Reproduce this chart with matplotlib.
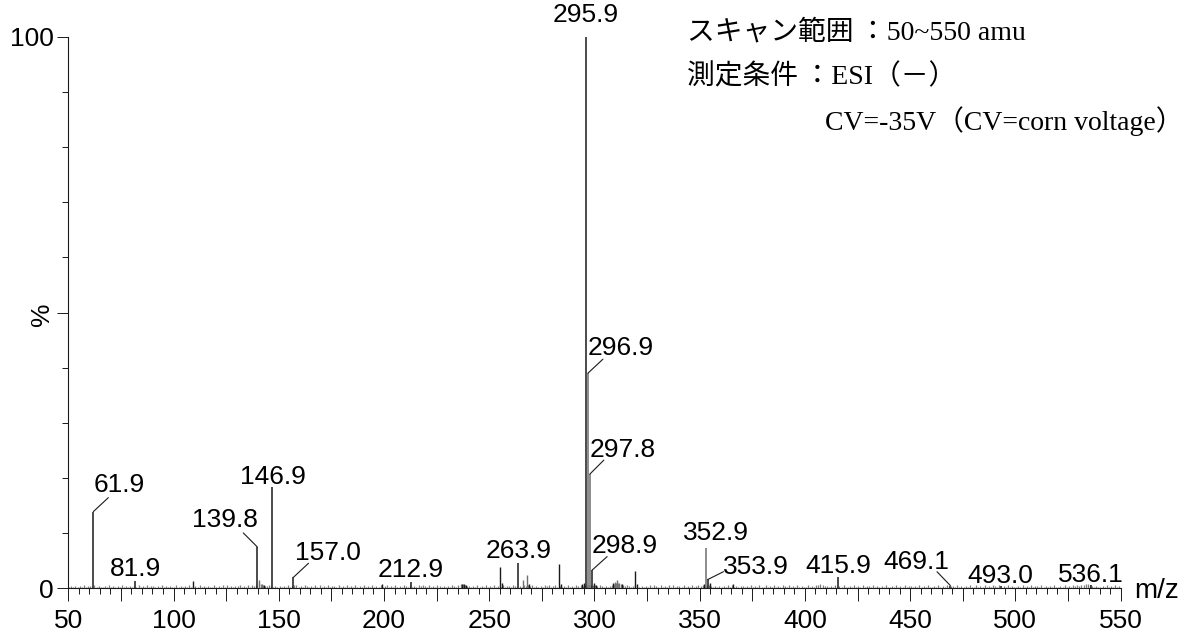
import matplotlib
matplotlib.use('Agg')
import matplotlib.pyplot as plt
import numpy as np

'''
ESI(-) mass spectrum, scan 50-550 amu
'''
# labelled peaks: m/z and relative intensity (%)
peak_mz = [61.9, 81.9, 139.8, 146.9, 157.0, 212.9, 263.9, 295.9, 296.9,
           297.8, 298.9, 352.9, 353.9, 415.9, 469.1, 493.0, 536.1]
peak_int = [13.9, 1.3, 7.5, 18.3, 2.0, 1.1, 4.6, 100.0, 39.0,
            20.7, 3.3, 7.3, 1.6, 2.0, 0.5, 0.4, 0.6]

# other visible peaks without labels
minor_mz = [109.1, 140.8, 141.8, 143.0, 198.9, 237.0, 238.0, 239.0, 255.3, 256.2,
            266.0, 267.9, 269.0, 283.2, 284.0, 293.9, 294.9, 299.9, 300.9,
            308.9, 309.9, 310.9, 311.9, 313.0, 319.2, 320.1, 351.9, 354.9, 366.0]
minor_int = [1.3, 1.5, 0.8, 0.6, 0.8, 0.8, 0.7, 0.6, 3.8, 0.9,
             1.5, 2.4, 0.8, 4.4, 0.8, 0.7, 1.0, 0.9, 0.6,
             0.9, 1.2, 1.5, 1.0, 0.8, 3.1, 0.8, 0.8, 0.9, 0.7]

# baseline noise, one value per unit m/z from 50 to 549, in 0.15 % steps
noise_steps = (
    "2323132423" "3242312324" "2313242313" "2324232413" "3231423132"
    "2423132423" "3142323124" "2324242323" "3423242434" "6543343232"
    "3232423442" "3243232424" "2324233242" "3242324232" "4232423242"
    "3423242324" "3242324343" "2423243232" "3243245543" "3232423242"
    "3242324233" "2432324343" "4232324342" "3423232423" "2434344444"
    "4343232345" "6754343234" "3232324243" "2423242423" "3242324234"
    "3434432323" "2324242323" "3232423242" "2423242324" "3242324232"
    "2423244543" "3232423242" "2324232423" "3242323242" "2324232423"
    "3232423242" "2324232423" "3242323242" "2423242324" "3242324232"
    "2324232423" "3242323242" "2324232434" "3445543232" "2324232423"
)
noise_mz = np.arange(50, 550) + 0.4
noise_int = np.array([int(c) for c in noise_steps]) * 0.15

# label layout: text offset (px) and leader end offset (px) from the peak top
label_off = {61.9: (26, 19.5, 15, 14), 81.9: (0, 5.5, None, None),
             139.8: (-32, 19.5, -14, 14), 146.9: (1, 3.5, None, None),
             157.0: (34, 17.5, 15, 14), 212.9: (0, 5.5, None, None),
             263.9: (0, 4.5, None, None), 295.9: (0, 15.2, None, None),
             296.9: (33, 18.5, 15, 14), 297.8: (33, 17.5, 14, 14),
             298.9: (33, 17.5, 15, 13.5), 352.9: (10, 8.5, None, None),
             353.9: (48, 5, 15.6, 7.8), 415.9: (0, 4.5, None, None),
             469.1: (-34, 17, -13.3, 13.8), 493.0: (0, 3.5, None, None),
             536.1: (-1, 2.5, None, None)}
gray_peaks = [296.9, 297.8, 352.9, 140.8, 141.8, 266.0, 267.9, 310.9, 311.9, 309.9]

num_font = 'Liberation Sans'
fig = plt.figure(figsize=(11.92, 6.35), dpi=100)
ax = fig.add_axes([68.3 / 1192, 1 - 588.3 / 635, (1120.6 - 68.3) / 1192, (588.3 - 36.7) / 635])

ax.vlines(noise_mz, 0, noise_int, colors='#7f7f7f', lw=0.9)
for mz, h in zip(minor_mz, minor_int):
    c = '#6e6e6e' if mz in gray_peaks else '#1a1a1a'
    ax.vlines(mz, 0, h, colors=c, lw=1.0)
for mz, h in zip(peak_mz, peak_int):
    c = '#6e6e6e' if mz in gray_peaks else '#1a1a1a'
    ax.vlines(mz, 0, h, colors=c, lw=1.1, clip_on=False)
    dx, dy, ldx, ldy = label_off[mz]
    ax.annotate('%.1f' % mz, xy=(mz, h), xytext=(dx, dy), textcoords='offset pixels',
                ha='center', va='baseline', fontsize=19, family=num_font,
                annotation_clip=False)
    if ldx is not None:
        ax.annotate('', xy=(mz, h), xytext=(ldx, ldy), textcoords='offset pixels',
                    arrowprops=dict(arrowstyle='-', lw=0.8, color='#1a1a1a',
                                    shrinkA=0, shrinkB=0),
                    annotation_clip=False)

ax.set_xlim(50, 550)
ax.set_ylim(0, 100)
for s in ['top', 'right']:
    ax.spines[s].set_visible(False)
for s in ['left', 'bottom']:
    ax.spines[s].set_linewidth(0.8)
    ax.spines[s].set_color('#1a1a1a')

ax.set_xticks(range(50, 551, 25))
ax.set_xticklabels([str(v) if v % 50 == 0 else '' for v in range(50, 551, 25)])
ax.set_xticks(range(50, 551, 5), minor=True)
ax.set_yticks([0, 50, 100])
ax.set_yticklabels(['0', '%', '100'])
ax.set_yticks(range(0, 101, 10), minor=True)
ax.tick_params(axis='x', which='major', direction='out', length=9.2, width=0.7,
               pad=6, labelsize=19, color='#1a1a1a')
ax.tick_params(axis='x', which='minor', direction='out', length=4.6, width=0.7, color='#1a1a1a')
ax.tick_params(axis='y', which='major', direction='out', length=8.2, width=0.7,
               pad=2.4, labelsize=19, color='#1a1a1a')
ax.tick_params(axis='y', which='minor', direction='out', length=4.3, width=0.7, color='#1a1a1a')
for lab in ax.get_xticklabels() + ax.get_yticklabels():
    lab.set_family(num_font)
ax.get_yticklabels()[1].set_rotation(90)

fig.text(1134 / 1192, 1 - 591 / 635, 'm/z', ha='left', va='center', fontsize=20, family=num_font)

jp = ['Liberation Serif', 'Noto Sans CJK JP']
fig.text(687 / 1192, 1 - 33 / 635, 'スキャン範囲\u2009：50~550 amu', ha='left', va='center',
         fontsize=20, family=jp)
fig.text(687 / 1192, 1 - 77.5 / 635, '測定条件\u2009：ESI（－）', ha='left', va='center',
         fontsize=20, family=jp)
fig.text(825 / 1192, 1 - 121 / 635, 'CV=-35V（CV=corn voltage）', ha='left', va='center',
         fontsize=20, family=jp)

fig.savefig('out.png', dpi=100)
